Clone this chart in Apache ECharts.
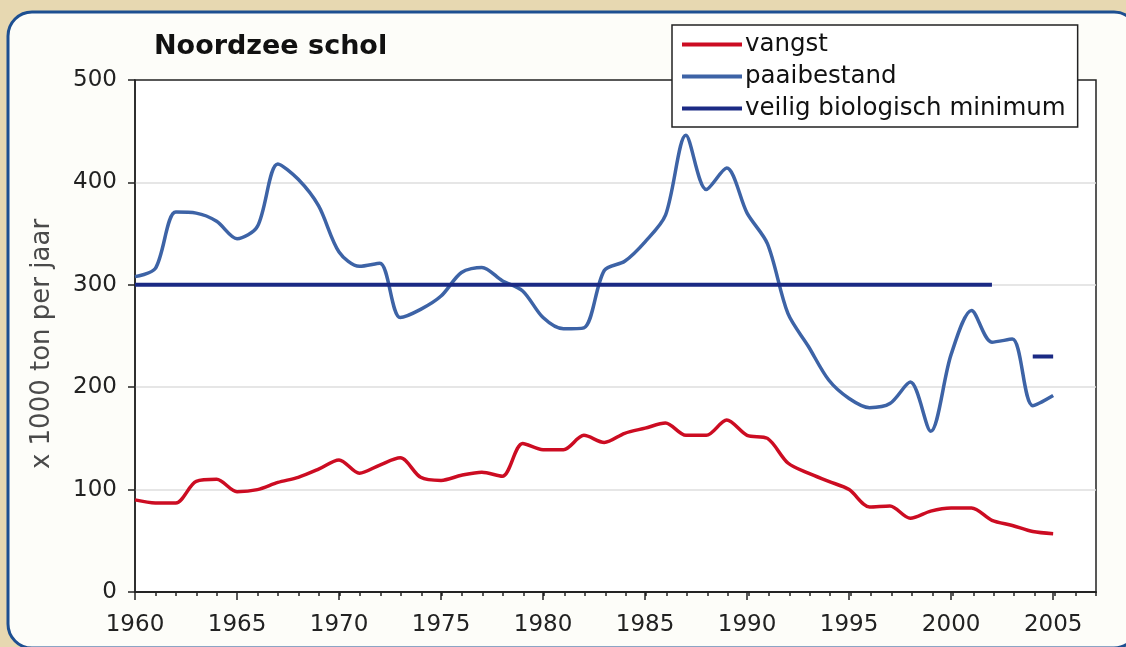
<!DOCTYPE html>
<html>
<head>
<meta charset="utf-8">
<title>Noordzee schol</title>
<script src="https://cdn.jsdelivr.net/npm/echarts@6/dist/echarts.min.js"></script>
<style>
  html, body { margin: 0; padding: 0; background: #e7d8b1; }
  #chart { width: 1126px; height: 647px; }
</style>
</head>
<body>
<div id="chart"></div>
<script>
// jaren en waarden (x 1000 ton per jaar)
const years = [
  1960, 1961, 1962, 1963, 1964, 1965, 1966, 1967, 1968, 1969,
  1970, 1971, 1972, 1973, 1974, 1975, 1976, 1977, 1978, 1979,
  1980, 1981, 1982, 1983, 1984, 1985, 1986, 1987, 1988, 1989,
  1990, 1991, 1992, 1993, 1994, 1995, 1996, 1997, 1998, 1999,
  2000, 2001, 2002, 2003, 2004, 2005
]
const vangst = [
  90, 87, 87, 108, 110, 98, 100, 107, 112, 120,
  129, 116, 124, 131, 112, 109, 114, 117, 113, 145,
  139, 139, 153, 146, 155, 160, 165, 153, 153, 168,
  153, 150, 126, 116, 108, 100, 83, 84, 72, 79,
  82, 82, 70, 65, 59, 57
]
const paaibestand = [
  308, 316, 371, 370, 362, 345, 357, 418, 403, 377,
  332, 318, 321, 268, 276, 289, 312, 317, 304, 294,
  268, 257, 258, 314, 323, 342, 368, 446, 393, 414,
  370, 340, 272, 240, 207, 189, 180, 184, 205, 157,
  232, 275, 244, 247, 182, 192
]
const minimumYears = [1960, 2002, 2003, 2004, 2005]
const minimumValues = [300, 300, null, 230, 230]
const xLabels = [1960, 1965, 1970, 1975, 1980, 1985, 1990, 1995, 2000, 2005]

const font = 'DejaVu Sans'
const pairs = (xs, ys) => xs.map((x, i) => [x, ys[i]])

const chart = echarts.init(document.getElementById('chart'))

chart.setOption({
  backgroundColor: '#e7d8b1',
  animation: false,
  graphic: [
    {
      type: 'rect',
      z: -10,
      shape: { x: 8, y: 12, width: 1130, height: 636, r: 24 },
      style: { fill: '#fdfdf9', stroke: '#1d4f91', lineWidth: 3 }
    },
    {
      type: 'text',
      x: 42,
      y: 344,
      rotation: Math.PI / 2,
      style: {
        text: 'x 1000 ton per jaar',
        fontFamily: font,
        fontSize: 26,
        fill: '#4a4a4a',
        align: 'center',
        verticalAlign: 'middle'
      }
    }
  ],
  title: {
    text: 'Noordzee schol',
    left: 154,
    top: 33,
    padding: 0,
    textStyle: { fontFamily: font, fontSize: 27, fontWeight: 'bold', color: '#111' }
  },
  legend: {
    orient: 'vertical',
    left: 672,
    top: 25,
    padding: [7, 12, 6, 10],
    itemGap: 7,
    itemWidth: 60,
    itemHeight: 4,
    icon: 'rect',
    backgroundColor: '#fff',
    borderColor: '#222',
    borderWidth: 1.5,
    borderRadius: 0,
    data: ['vangst', 'paaibestand', 'veilig biologisch minimum'],
    textStyle: { fontFamily: font, fontSize: 24.5, lineHeight: 25, color: '#111', padding: [0, 0, 0, -2] }
  },
  grid: {
    left: 135,
    right: 30,
    top: 80,
    bottom: 55,
    show: true,
    borderColor: '#222',
    borderWidth: 1.5,
    backgroundColor: '#fff',
    outerBoundsMode: 'none'
  },
  xAxis: [
    {
      type: 'value',
      min: 1960,
      max: 2007.1,
      axisLine: { lineStyle: { color: '#222', width: 1.5 } },
      axisTick: { customValues: xLabels, length: 8, lineStyle: { color: '#222', width: 1.5 } },
      axisLabel: {
        customValues: xLabels,
        formatter: v => String(v),
        margin: 22,
        fontFamily: font,
        fontSize: 23,
        color: '#222'
      },
      splitLine: { show: false }
    },
    {
      type: 'value',
      position: 'bottom',
      min: 1960,
      max: 2007,
      interval: 1,
      axisLine: { show: true, lineStyle: { color: '#222', width: 1.5 } },
      axisTick: { show: true, length: 4, lineStyle: { color: '#222', width: 1.5 } },
      axisLabel: { show: false },
      splitLine: { show: false }
    }
  ],
  yAxis: {
    type: 'value',
    min: 0,
    max: 500,
    interval: 100,
    axisLine: { show: true, lineStyle: { color: '#222', width: 1.5 } },
    axisTick: { show: true, length: 7, lineStyle: { color: '#222', width: 1.5 } },
    axisLabel: { margin: 18, fontFamily: font, fontSize: 23, color: '#222' },
    splitLine: { showMinLine: false, showMaxLine: false, lineStyle: { color: '#dedede', width: 1.5 } }
  },
  series: [
    {
      name: 'vangst',
      type: 'line',
      data: pairs(years, vangst),
      symbol: 'none',
      smooth: 0.3,
      color: '#cc0c22',
      lineStyle: { width: 3.5, color: '#cc0c22' }
    },
    {
      name: 'paaibestand',
      type: 'line',
      data: pairs(years, paaibestand),
      symbol: 'none',
      smooth: 0.3,
      color: '#3d63a6',
      lineStyle: { width: 3.5, color: '#3d63a6' }
    },
    {
      name: 'veilig biologisch minimum',
      type: 'line',
      data: pairs(minimumYears, minimumValues),
      symbol: 'none',
      connectNulls: false,
      color: '#1b2a84',
      lineStyle: { width: 4, color: '#1b2a84' }
    }
  ]
})
</script>
</body>
</html>
